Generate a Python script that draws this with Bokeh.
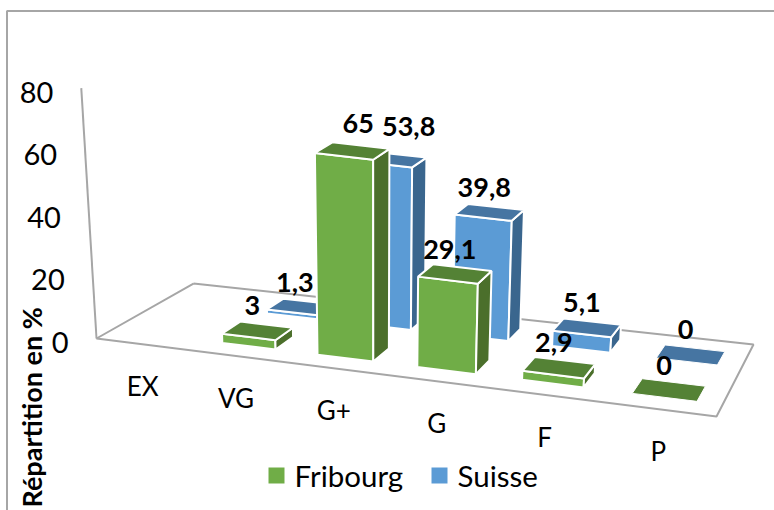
from bokeh.plotting import figure
from bokeh.embed import file_html
from bokeh.resources import INLINE
from bokeh.core.properties import value
import math

# ---- data ----
categories = ["EX", "VG", "G+", "G", "F", "P"]
fribourg = [None, 3, 65, 29.1, 2.9, 0]
suisse = [None, 1.3, 53.8, 39.8, 5.1, 0]
y_ticks = [0, 20, 40, 60, 80]
y_title = "Répartition en %"

# ---- style ----
FONT = value("Lato")
GREEN = ("#70AD47", "#548235", "#4B6F2B")   # front, top, side
BLUE = ("#5B9BD5", "#4675A2", "#3A668E")
GREY = "#A6A6A6"
W, H = 774, 510

# ---- 3D chart scale: floor homography + vertical perspective ----
g, h = -0.1376, 0.1162
a, b, c = 521.5, 119.4, 96.0
d, e, f = 20.8, -22.1, 338.0
VX, VY = 376.0, 4945.0


def project(u, t, v=0.0):
    s = u / len(categories)
    w = g * s + h * t + 1
    x0 = (a * s + b * t + c) / w
    y0 = (d * s + e * t + f) / w
    k = (3.13 - 0.17 * t) * v / (VY - y0)
    return x0 + (x0 - VX) * k, y0 + (y0 - VY) * k


p = figure(width=W, height=H, x_range=(0, W), y_range=(H, 0),
           output_backend="svg", toolbar_location=None, min_border=0,
           outline_line_color=None, background_fill_color="white")
p.axis.visible = False
p.grid.visible = False

# chart frame
p.line([6.5, 6.5, W], [H, 10.5, 10.5], line_color=GREY, line_width=2)

# floor and value axis
n = len(categories)
floor = [project(0, 1), project(0, 0), project(n, 0), project(n, 1), project(0, 1)]
p.line([q[0] for q in floor], [q[1] for q in floor], line_color=GREY, line_width=2)
ax = [project(0, 0), project(0, 0, y_ticks[-1])]
p.line([q[0] for q in ax], [q[1] for q in ax], line_color=GREY, line_width=2)


def poly(pts, color, lw=2):
    p.patch([q[0] for q in pts], [q[1] for q in pts], fill_color=color,
            line_color="white", line_width=lw)


def bar(i, t0, t1, v, cols):
    u0, u1 = i + 0.215, i + 0.78
    if v > 0:
        poly([project(u0, t0), project(u1, t0), project(u1, t0, v), project(u0, t0, v)], cols[0])
        poly([project(u1, t0), project(u1, t1), project(u1, t1, v), project(u1, t0, v)], cols[2])
        poly([project(u0, t0, v), project(u1, t0, v), project(u1, t1, v), project(u0, t1, v)], cols[1])
    else:
        poly([project(u0, t0), project(u1, t0), project(u1, t1), project(u0, t1)], cols[1], 1)


def fmt(v):
    return str(v).replace(".", ",")


for vals, t0, t1, cols in ((suisse, 0.65, 0.85, BLUE), (fribourg, 0.15, 0.35, GREEN)):
    for i, v in enumerate(vals):
        if v is not None:
            bar(i, t0, t1, v, cols)

# data labels, above each bar's top; the two G+ labels were moved by hand in the original
nudge = {("F", 2): (11, -3), ("S", 2): (22, -8)}
for key, vals, t in (("S", suisse, 0.75), ("F", fribourg, 0.25)):
    for i, v in enumerate(vals):
        if v is None:
            continue
        x, y = project(i + 0.515, t, v)
        nx, ny = nudge.get((key, i), (0, 0))
        p.text([x - 7 + nx], [y - 25 + ny], text=[fmt(v)], text_font=FONT, text_font_style="bold",
               text_font_size="27px", text_align="center", text_baseline="middle", text_color="black")

# value tick labels, following the leaning axis
for tv in y_ticks:
    x, y = project(0, 0, tv)
    p.text([x - 28], [y + 4], text=[str(tv)], text_font=FONT, text_font_size="29px",
           text_align="right", text_baseline="middle", text_color="black")

# category labels, below the front edge
for i, cat in enumerate(categories):
    x, y = project(i + 0.5, 0)
    p.text([x + 1], [y + 42], text=[cat], text_font=FONT, text_font_size="26px",
           text_align="center", text_baseline="middle", text_color="black")

# axis title
p.text([31], [507], text=[y_title], text_font=FONT, text_font_style="bold", text_font_size="27px",
       angle=math.pi / 2, text_align="left", text_baseline="middle", text_color="black")

# legend
for x0, name, col in ((268, "Fribourg", GREEN[0]), (431, "Suisse", BLUE[0])):
    p.quad(left=[x0], right=[x0 + 16], top=[467], bottom=[483], fill_color=col, line_color=None)
    p.text([x0 + 26], [474.5], text=[name], text_font=FONT, text_font_size="29.5px",
           text_align="left", text_baseline="middle", text_color="black")

open("out.html", "w").write(file_html(p, INLINE))
